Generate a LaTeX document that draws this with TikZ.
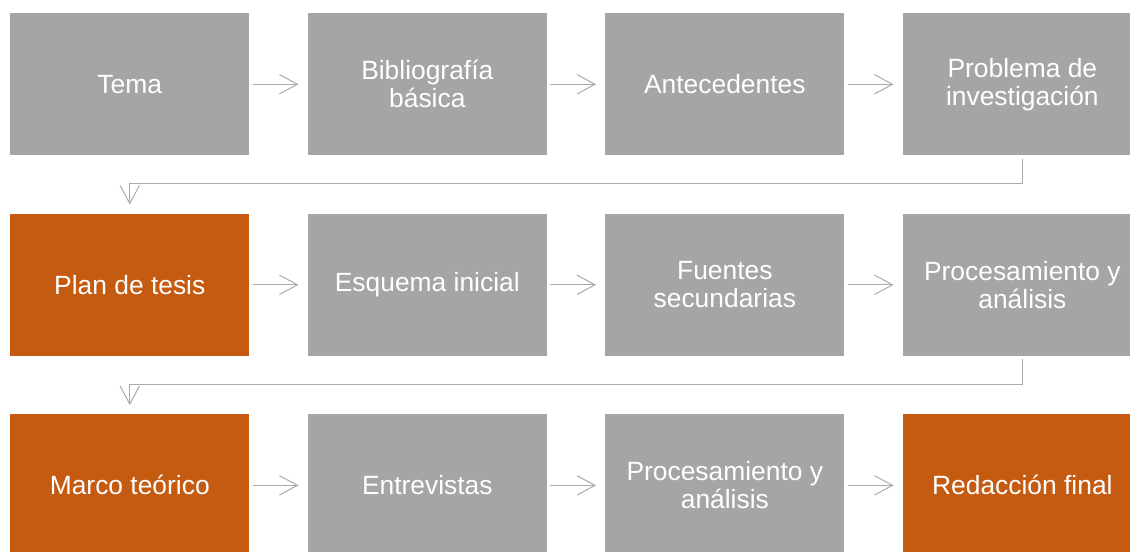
\documentclass[tikz,border=0pt]{standalone}
\usepackage{fontspec}
\setmainfont{Liberation Sans}
\usepackage{tikz}
\usetikzlibrary{positioning,arrows.meta}
\definecolor{boxgray}{HTML}{A5A5A5}
\definecolor{boxorange}{HTML}{C55A11}
\definecolor{linegray}{HTML}{ABABAB}

\begin{document}
\begin{tikzpicture}[node distance=43.5pt,
    step box/.style={rectangle,fill=boxgray,text=white,minimum width=179.25pt,minimum height=106.5pt,
      inner sep=0pt,align=center,font=\fontsize{19.8}{21}\selectfont},
    key box/.style={step box,fill=boxorange},
    arrow/.style={-{Straight Barb[length=13.5pt,width=14.5pt]},line width=0.75pt,linegray,
      shorten <=2.25pt,shorten >=6.75pt}
    ]
    \useasboundingbox (0,0) rectangle (847.5pt,-413.25pt);

    \node[step box,anchor=north west] (tema) at (7.5pt,-9.75pt) {Tema};
    \node[step box,right=of tema] (biblio) {Bibliografía\\básica};
    \node[step box,right=of biblio] (antec) {Antecedentes};
    \node[step box,right=of antec] (problema) {Problema de\\investigación};

    \node[key box,below=of tema] (plan) {Plan de tesis};
    \node[step box,right=of plan] (esquema) {Esquema inicial};
    \node[step box,right=of esquema] (fuentes) {Fuentes\\secundarias};
    \node[step box,right=of fuentes] (proc1) {Procesamiento y\\análisis};

    \node[key box,below=of plan] (marco) {Marco teórico};
    \node[step box,right=of marco] (entrev) {Entrevistas};
    \node[step box,right=of entrev] (proc2) {Procesamiento y\\análisis};
    \node[key box,right=of proc2] (redac) {Redacción final};

    \draw[arrow] (tema) to (biblio);
    \draw[arrow] (biblio) to (antec);
    \draw[arrow] (antec) to (problema);
    \draw[arrow] (problema.south) -- ++(0,-21pt) -| (plan.north);

    \draw[arrow] (plan) to (esquema);
    \draw[arrow] (esquema) to (fuentes);
    \draw[arrow] (fuentes) to (proc1);
    \draw[arrow] (proc1.south) -- ++(0,-21pt) -| (marco.north);

    \draw[arrow] (marco) to (entrev);
    \draw[arrow] (entrev) to (proc2);
    \draw[arrow] (proc2) to (redac);

  \end{tikzpicture}
\end{document}
